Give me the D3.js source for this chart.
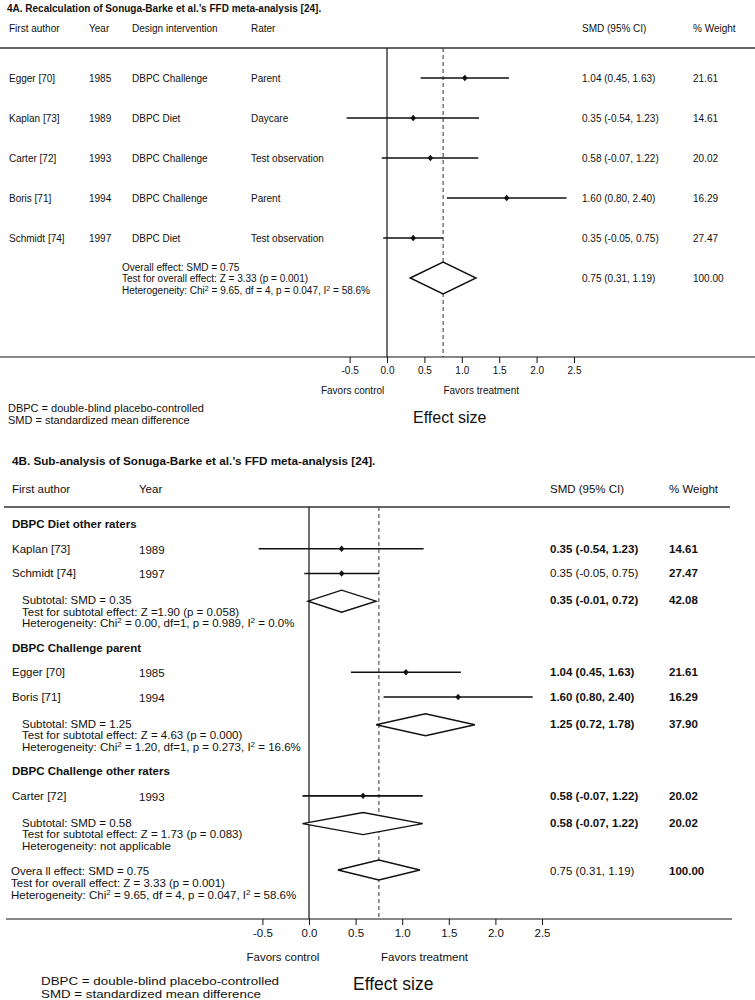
<!DOCTYPE html>
<html>
<head>
<meta charset="utf-8">
<script src="https://cdn.jsdelivr.net/npm/d3@7"></script>
<style>
  body { margin: 0; background: #fff; }
  svg text { font-family: "Liberation Sans", Arial, sans-serif; fill: #111; }
</style>
</head>
<body>
<div id="chart"></div>
<script>
// ---- data: panel A ----
const authorsA = ['Egger [70]', 'Kaplan [73]', 'Carter [72]', 'Boris [71]', 'Schmidt [74]'];
const yearsA = [1985, 1989, 1993, 1994, 1997];
const designA = ['DBPC Challenge', 'DBPC Diet', 'DBPC Challenge', 'DBPC Challenge', 'DBPC Diet'];
const raterA = ['Parent', 'Daycare', 'Test observation', 'Parent', 'Test observation'];
const smdA = [1.04, 0.35, 0.58, 1.60, 0.35];
const loA = [0.45, -0.54, -0.07, 0.80, -0.05];
const hiA = [1.63, 1.23, 1.22, 2.40, 0.75];
const weightA = [21.61, 14.61, 20.02, 16.29, 27.47];

// overall effect (both panels)
const overall = {smd: 0.75, lo: 0.31, hi: 1.19, weight: 100.00};
const overallTextA = ['Overall effect: SMD = 0.75', 'Test for overall effect: Z = 3.33 (p = 0.001)',
  'Heterogeneity: Chi^2 = 9.65, df = 4, p = 0.047, I^2 = 58.6%'];

// ---- data: panel B ----
const groupsB = ['DBPC Diet other raters', 'DBPC Challenge parent', 'DBPC Challenge other raters'];
const authorsB = ['Kaplan [73]', 'Schmidt [74]', 'Egger [70]', 'Boris [71]', 'Carter [72]'];
const yearsB = [1989, 1997, 1985, 1994, 1993];
const smdB = [0.35, 0.35, 1.04, 1.60, 0.58];
const loB = [-0.54, -0.05, 0.45, 0.80, -0.07];
const hiB = [1.23, 0.75, 1.63, 2.40, 1.22];
const weightB = [14.61, 27.47, 21.61, 16.29, 20.02];
const boldSmdB = [true, false, true, true, true];
const subSmd = [0.35, 1.25, 0.58];
const subLo = [-0.01, 0.72, -0.07];
const subHi = [0.72, 1.78, 1.22];
const subWeight = [42.08, 37.90, 20.02];
const subText = [
  ['Subtotal: SMD = 0.35', 'Test for subtotal effect: Z =1.90 (p = 0.058)', 'Heterogeneity: Chi^2 = 0.00, df=1, p = 0.989, I^2 = 0.0%'],
  ['Subtotal: SMD = 1.25', 'Test for subtotal effect: Z = 4.63 (p = 0.000)', 'Heterogeneity: Chi^2 = 1.20, df=1, p = 0.273, I^2 = 16.6%'],
  ['Subtotal: SMD = 0.58', 'Test for subtotal effect: Z = 1.73 (p = 0.083)', 'Heterogeneity: not applicable']
];
const overallTextB = ['Overa ll effect: SMD = 0.75', 'Test for overall effect: Z = 3.33 (p = 0.001)',
  'Heterogeneity: Chi^2 = 9.65, df = 4, p = 0.047, I^2 = 58.6%'];
// row slots for panel B (group header, studies, subtotal ...)
const slotGroup = [0, 5, 10];
const slotStudy = [1, 2, 6, 7, 11];
const slotSub = [3, 8, 12];
const slotOverall = 14;

const tickVals = [-0.5, 0, 0.5, 1, 1.5, 2, 2.5];
const footnotes = ['DBPC = double-blind placebo-controlled', 'SMD = standardized mean difference'];

const W = 755, H = 1000;
const svg = d3.select('#chart').append('svg').attr('width', W).attr('height', H);
// plain hyphen for negatives, like the original
const loc = d3.formatLocale({decimal: '.', thousands: ',', grouping: [3], currency: ['$', ''], minus: '-'});
const f2 = loc.format('.2f');
const ciText = (m, l, h) => `${f2(m)} (${f2(l)}, ${f2(h)})`;

// text with ^2 superscripts
function rich(g, x, y, str, size, weight) {
  const t = g.append('text').attr('x', x).attr('y', y).attr('dy', '0.35em')
    .style('font-size', size + 'px').style('font-weight', weight || 'normal');
  const parts = str.split('^2');
  parts.forEach((p, i) => {
    t.append('tspan').text(p);
    if (i < parts.length - 1) t.append('tspan').attr('baseline-shift', 'super').style('font-size', (size * 0.7) + 'px').text('2');
  });
  return t;
}
function marker(g, x, y) {
  g.append('path').attr('d', `M${x - 2.8},${y}L${x},${y - 3.2}L${x + 2.8},${y}L${x},${y + 3.2}Z`).attr('fill', '#111');
}
function diamond(g, xs, v, l, h, y, hh) {
  g.append('path').attr('d', `M${xs(l)},${y}L${xs(v)},${y - hh}L${xs(h)},${y}L${xs(v)},${y + hh}Z`)
    .attr('fill', 'white').attr('stroke', '#111').attr('stroke-width', 1.4);
}
function ci(g, xs, l, h, y) {
  g.append('line').attr('x1', xs(l)).attr('x2', xs(h)).attr('y1', y).attr('y2', y)
    .attr('stroke', '#111').attr('stroke-width', 1.6);
}
function axis(g, xs, y, fs) {
  const ax = d3.axisBottom(xs).tickValues(tickVals).tickFormat(loc.format('.1f')).tickSize(6).tickPadding(4);
  const a = g.append('g').attr('transform', `translate(0,${y})`).call(ax);
  a.select('.domain').remove();
  a.selectAll('.tick line').attr('stroke', '#111').attr('stroke-width', 1);
  a.selectAll('.tick text').style('font-size', fs + 'px').attr('fill', '#111')
    .style('font-family', '"Liberation Sans", Arial, sans-serif');
}

// ================= PANEL A =================
const gA = svg.append('g');
const xA = d3.scaleLinear().domain([0, 1]).range([387, 461.8]);
const yA = d3.scaleLinear().domain([0, 5]).range([78, 278]);
const fsA = 10;

gA.append('text').attr('x', 7).attr('y', 8).attr('dy', '0.35em').style('font-size', '10px').style('font-weight', 'bold')
  .text('4A. Recalculation of Sonuga-Barke et al.\u2019s FFD meta-analysis [24].');
const headA = [['First author', 9], ['Year', 89], ['Design intervention', 132], ['Rater', 251], ['SMD (95% CI)', 582], ['% Weight', 693]];
headA.forEach(([t, x]) => rich(gA, x, 28, t, fsA));
gA.append('line').attr('x1', 0).attr('x2', W).attr('y1', 48).attr('y2', 48).attr('stroke', '#333').attr('stroke-width', 1.5);

// reference lines
gA.append('line').attr('x1', xA(0)).attr('x2', xA(0)).attr('y1', 48).attr('y2', 357).attr('stroke', '#111').attr('stroke-width', 1.2);
gA.append('line').attr('x1', xA(overall.smd)).attr('x2', xA(overall.smd)).attr('y1', 48).attr('y2', 357)
  .attr('stroke', '#333').attr('stroke-width', 1).attr('stroke-dasharray', '4,3');

authorsA.forEach((a, i) => {
  const y = yA(i);
  rich(gA, 9, y, a, fsA);
  rich(gA, 89, y, String(yearsA[i]), fsA);
  rich(gA, 132, y, designA[i], fsA);
  rich(gA, 251, y, raterA[i], fsA);
  rich(gA, 582, y, ciText(smdA[i], loA[i], hiA[i]), fsA);
  rich(gA, 693, y, f2(weightA[i]), fsA);
  ci(gA, xA, loA[i], hiA[i], y);
  marker(gA, xA(smdA[i]), y);
});
diamond(gA, xA, overall.smd, overall.lo, overall.hi, yA(5), 16);
rich(gA, 582, yA(5), ciText(overall.smd, overall.lo, overall.hi), fsA);
rich(gA, 693, yA(5), f2(overall.weight), fsA);
overallTextA.forEach((t, i) => rich(gA, 122, yA(5) - 11 + i * 11.5, t, fsA));

// axis
gA.append('line').attr('x1', 0).attr('x2', W).attr('y1', 357).attr('y2', 357).attr('stroke', '#111').attr('stroke-width', 1.2);
axis(gA, xA, 357, fsA);
gA.append('text').attr('x', xA(-0.46)).attr('y', 390).attr('dy', '0.35em').attr('text-anchor', 'middle').style('font-size', fsA + 'px').text('Favors control');
gA.append('text').attr('x', xA(1.26)).attr('y', 390).attr('dy', '0.35em').attr('text-anchor', 'middle').style('font-size', fsA + 'px').text('Favors treatment');
footnotes.forEach((t, i) => rich(gA, 8, 408 + i * 12, t, 11));
gA.append('text').attr('x', 413).attr('y', 417).attr('dy', '0.35em').style('font-size', '16px').text('Effect size');

// ================= PANEL B =================
const gB = svg.append('g');
const xB = d3.scaleLinear().domain([0, 1]).range([309, 402.2]);
const yB = d3.scaleLinear().domain([0, 14]).range([524, 870]);
const fsB = 11.5;

gB.append('text').attr('x', 12).attr('y', 461).attr('dy', '0.35em').style('font-size', '11.7px').style('font-weight', 'bold')
  .text('4B. Sub-analysis of Sonuga-Barke et al.\u2019s FFD meta-analysis [24].');
const headB = [['First author', 12], ['Year', 139], ['SMD (95% CI)', 550], ['% Weight', 669]];
headB.forEach(([t, x]) => rich(gB, x, 489, t, fsB));
gB.append('line').attr('x1', 4).attr('x2', 730).attr('y1', 507).attr('y2', 507).attr('stroke', '#333').attr('stroke-width', 1.5);

gB.append('line').attr('x1', xB(0)).attr('x2', xB(0)).attr('y1', 507).attr('y2', 919).attr('stroke', '#111').attr('stroke-width', 1.2);
gB.append('line').attr('x1', xB(overall.smd)).attr('x2', xB(overall.smd)).attr('y1', 507).attr('y2', 919)
  .attr('stroke', '#333').attr('stroke-width', 1).attr('stroke-dasharray', '4,3');

groupsB.forEach((g, k) => {
  rich(gB, 12, yB(slotGroup[k]), g, fsB, 'bold');
  const ys = yB(slotSub[k]);
  diamond(gB, xB, subSmd[k], subLo[k], subHi[k], ys + 3, 11);
  subText[k].forEach((t, i) => rich(gB, 22, ys + 2 + i * 11.5, t, fsB));
  rich(gB, 550, ys + 2, ciText(subSmd[k], subLo[k], subHi[k]), fsB, 'bold');
  rich(gB, 669, ys + 2, f2(subWeight[k]), fsB, 'bold');
});
authorsB.forEach((a, i) => {
  const y = yB(slotStudy[i]);
  rich(gB, 12, y, a, fsB);
  rich(gB, 139, y + 1, String(yearsB[i]), fsB);
  rich(gB, 550, y, ciText(smdB[i], loB[i], hiB[i]), fsB, boldSmdB[i] ? 'bold' : 'normal');
  rich(gB, 669, y, f2(weightB[i]), fsB, 'bold');
  ci(gB, xB, loB[i], hiB[i], y);
  marker(gB, xB(smdB[i]), y);
});
const yo = yB(slotOverall);
diamond(gB, xB, overall.smd, overall.lo, overall.hi, yo, 10);
overallTextB.forEach((t, i) => rich(gB, 11, yo + 1 + i * 12, t, fsB));
rich(gB, 550, yo + 1, ciText(overall.smd, overall.lo, overall.hi), fsB);
rich(gB, 669, yo + 1, f2(overall.weight), fsB, 'bold');

gB.append('line').attr('x1', 6).attr('x2', 732).attr('y1', 919).attr('y2', 919).attr('stroke', '#111').attr('stroke-width', 1.2);
axis(gB, xB, 919, fsB);
gB.append('text').attr('x', xB(-0.28)).attr('y', 957).attr('dy', '0.35em').attr('text-anchor', 'middle').style('font-size', fsB + 'px').text('Favors control');
gB.append('text').attr('x', xB(1.24)).attr('y', 957).attr('dy', '0.35em').attr('text-anchor', 'middle').style('font-size', fsB + 'px').text('Favors treatment');
const footW = [238, 220];
footnotes.forEach((t, i) => rich(gB, 41, 981 + i * 12.5, t, 11.5)
  .attr('textLength', footW[i]).attr('lengthAdjust', 'spacingAndGlyphs'));
gB.append('text').attr('x', 353).attr('y', 984).attr('dy', '0.35em').style('font-size', '17.5px').text('Effect size');
</script>
</body>
</html>
